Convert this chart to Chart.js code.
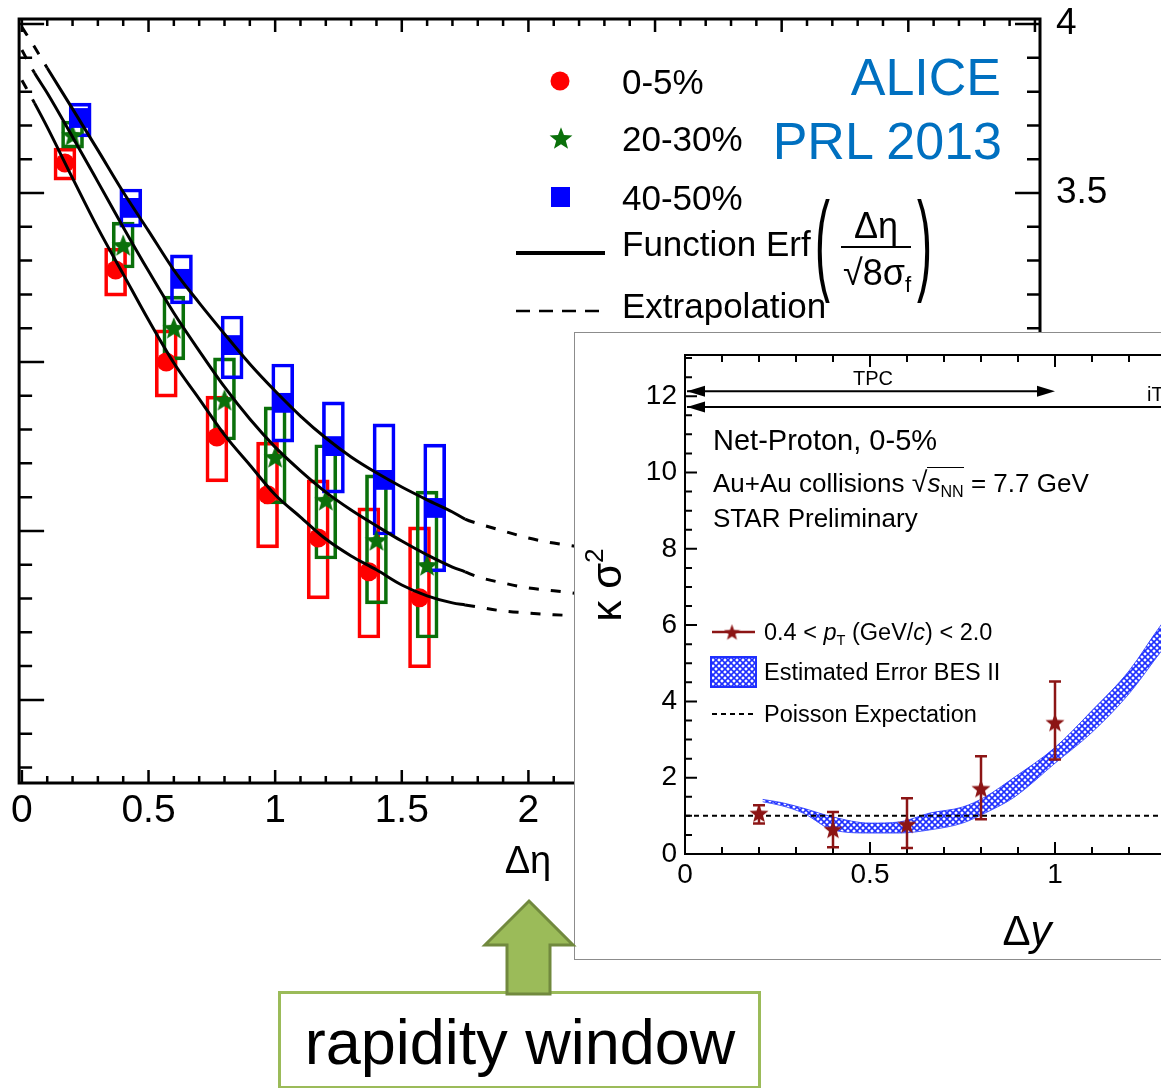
<!DOCTYPE html>
<html>
<head>
<meta charset="utf-8">
<title>Fluctuations vs rapidity window</title>
<script src="https://cdn.jsdelivr.net/npm/chart.js@4.4.1/dist/chart.umd.min.js"></script>
<style>
  html, body { margin: 0; padding: 0; background: #fff; }
  body { position: relative; width: 1161px; height: 1088px; overflow: hidden;
         font-family: 'Liberation Sans', Arial, Helvetica, sans-serif; color: #000; }
  canvas { display: block; }
  #mainChart { position: absolute; left: 0; top: 0; z-index: 1; }
  #inset { position: absolute; left: 574px; top: 332px; width: 760px; height: 626px;
           border: 1px solid #8c8c8c; background: #fff; z-index: 3; }
  .lbl { position: absolute; white-space: nowrap; line-height: 1; }
  .lbl sub { font-size: 0.62em; vertical-align: -0.32em; line-height: 0; }
  .lbl sup { font-size: 0.62em; vertical-align: 0.7em; line-height: 0; }
  .ol { border-top: 1.5px solid #000; }
  #window { position: absolute; left: 278px; top: 991px; width: 477px; height: 92px;
            border: 3.5px solid #9bbb59; background: #fff; z-index: 5; }
  #arrow { position: absolute; left: 0; top: 0; z-index: 5; }
</style>
</head>
<body>
<canvas id="mainChart" width="1161" height="900"></canvas>
<div id="inset"><canvas id="insetChart" width="760" height="626"></canvas></div>
<div id="window"></div>
<svg id="arrow" width="1161" height="1088">
  <polygon points="529,901 573,945 550,945 550,994 507,994 507,945 485,945"
           fill="#9bbb59" stroke="#71893e" stroke-width="3"/>
</svg>
<script>
const FONT = "'Liberation Sans', Arial, Helvetica, sans-serif";

// ALICE PRL 2013: D vs delta eta, three centralities
const ETA_RED   = [0.17, 0.37, 0.57, 0.77, 0.97, 1.17, 1.37, 1.57];
const ETA_GREEN = [0.20, 0.40, 0.60, 0.80, 1.00, 1.20, 1.40, 1.60];
const ETA_BLUE  = [0.23, 0.43, 0.63, 0.83, 1.03, 1.23, 1.43, 1.63];

const D_RED      = [3.589, 3.272, 3.000, 2.778, 2.607, 2.479, 2.379, 2.302];
const SYS_RED_LO = [3.538, 3.195, 2.896, 2.645, 2.450, 2.299, 2.183, 2.095];
const SYS_RED_HI = [3.633, 3.337, 3.095, 2.899, 2.763, 2.651, 2.568, 2.512];

const D_GREEN      = [3.672, 3.346, 3.101, 2.888, 2.719, 2.592, 2.473, 2.399];
const SYS_GREEN_LO = [3.633, 3.278, 3.006, 2.769, 2.580, 2.417, 2.284, 2.183];
const SYS_GREEN_HI = [3.713, 3.414, 3.195, 3.012, 2.867, 2.755, 2.666, 2.618];

const D_BLUE      = [3.722, 3.456, 3.246, 3.050, 2.879, 2.751, 2.651, 2.568];
const SYS_BLUE_LO = [3.666, 3.399, 3.172, 2.950, 2.763, 2.612, 2.488, 2.379];
const SYS_BLUE_HI = [3.766, 3.512, 3.317, 3.136, 2.994, 2.882, 2.817, 2.757];

// Erf fits (solid) and their extrapolation (dashed)
const FIT_ETA   = [0, 0.05, 0.1, 0.2, 0.3, 0.4, 0.5, 0.6, 0.7, 0.8, 0.9, 1.0, 1.1, 1.2, 1.3,
                   1.4, 1.5, 1.6, 1.7, 1.75, 1.8, 1.9, 2.0, 2.1, 2.2];
const FIT_RED   = [3.834, 3.766, 3.695, 3.544, 3.396, 3.260, 3.124, 2.997, 2.891, 2.784, 2.695, 2.607, 2.541,
                   2.476, 2.426, 2.385, 2.340, 2.308, 2.287, 2.281, 2.275, 2.263, 2.257, 2.252, 2.249];
const FIT_GREEN = [3.923, 3.855, 3.796, 3.666, 3.533, 3.399, 3.269, 3.145, 3.033, 2.926, 2.831, 2.748, 2.678,
                   2.615, 2.562, 2.515, 2.470, 2.429, 2.393, 2.379, 2.364, 2.346, 2.331, 2.323, 2.314];
const FIT_BLUE  = [3.991, 3.932, 3.870, 3.749, 3.627, 3.503, 3.388, 3.272, 3.175, 3.083, 2.994, 2.914, 2.840,
                   2.775, 2.719, 2.672, 2.630, 2.592, 2.556, 2.535, 2.522, 2.500, 2.479, 2.464, 2.453];
const FIT_SOLID_FROM = [0.05, 0.05, 0.1];   // red, green, blue
const FIT_SOLID_TO = 1.75;

const MAIN_X_MIN = -0.011, MAIN_X_MAX = 4.02;
const MAIN_Y_MIN = 1.754, MAIN_Y_MAX = 4.015;
const MAIN_X_LABELS = [0, 0.5, 1, 1.5, 2, 2.5, 3, 3.5, 4];
const MAIN_Y_LABELS = [2, 2.5, 3, 3.5, 4];

// STAR net-proton kappa*sigma^2 vs delta y (inset)
const DY     = [0.2, 0.4, 0.6, 0.8, 1.0];
const KS2    = [1.07, 0.65, 0.78, 1.72, 3.45];
const KS2_HI = [1.28, 1.10, 1.46, 2.56, 4.52];
const KS2_LO = [0.80, 0.18, 0.16, 0.91, 2.48];

const BAND_DY = [0.21, 0.26, 0.32, 0.40, 0.50, 0.58, 0.66, 0.75, 0.81, 0.89, 1.00, 1.10, 1.20, 1.29, 1.32];
const BAND_LO = [1.37, 1.27, 1.07, 0.63, 0.55, 0.55, 0.63, 0.81, 1.07, 1.49, 2.38, 3.19, 4.20, 5.35, 5.70];
const BAND_HI = [1.43, 1.35, 1.20, 0.97, 0.81, 0.84, 1.07, 1.23, 1.49, 2.01, 2.79, 3.76, 4.80, 6.05, 6.40];
const POISSON = 1;
const TPC_RANGE = [0, 1.0];
const ITPC_RANGE = [0, 1.6];

const INSET_X_MAX = 1.6, INSET_Y_MAX = 13.08;
const INSET_X_LABELS = [0, 0.5, 1, 1.5];
const INSET_Y_LABELS = [0, 2, 4, 6, 8, 10, 12];

const RED = '#ff0000', GREEN = '#0a700a', BLUE = '#0000ff', STAR_RED = '#8c1515';

function starCanvas(size, color) {
  const c = document.createElement('canvas');
  c.width = c.height = size;
  const g = c.getContext('2d');
  const R = size / 2, r = R * 0.42, cx = size / 2, cy = size / 2 + R * 0.095;
  g.beginPath();
  for (let i = 0; i < 10; i++) {
    const a = -Math.PI / 2 + i * Math.PI / 5;
    const rr = i % 2 ? r : R;
    g.lineTo(cx + rr * Math.cos(a), cy + rr * Math.sin(a));
  }
  g.closePath();
  g.fillStyle = color;
  g.fill();
  return c;
}

function hatch(color) {
  const s = 6;
  const c = document.createElement('canvas');
  c.width = c.height = s;
  const g = c.getContext('2d');
  g.strokeStyle = color;
  g.lineWidth = 1.6;
  g.beginPath();
  g.moveTo(-1, -1); g.lineTo(s + 1, s + 1);
  g.moveTo(s + 1, -1); g.lineTo(-1, s + 1);
  g.stroke();
  return g.createPattern(c, 'repeat');
}

const pts = (xs, ys) => xs.map((x, i) => ({ x, y: ys[i] }));
const boxes = (xs, lo, hi) => xs.map((x, i) => ({ x, y: [lo[i], hi[i]] }));

function label(html, x, cy, size, opts = {}) {
  const d = document.createElement('div');
  d.className = 'lbl';
  d.innerHTML = html;
  d.style.fontSize = size + 'px';
  d.style.left = x + 'px';
  d.style.top = (cy - 0.49 * size) + 'px';
  const shift = { left: '0', center: '-50%', right: '-100%' }[opts.align || 'left'];
  d.style.transform = 'translateX(' + shift + ')' + (opts.transform ? ' ' + opts.transform : '');
  if (opts.origin) d.style.transformOrigin = opts.origin;
  if (opts.color) d.style.color = opts.color;
  d.style.zIndex = opts.z || 2;
  document.body.appendChild(d);
  return d;
}

// ---------- main (ALICE) panel ----------
const greenStar = starCanvas(24, GREEN);

const mainFrame = {
  id: 'mainFrame',
  afterDatasetsDraw(chart) {
    const { ctx, chartArea: a, scales: { x, y } } = chart;
    ctx.save();
    ctx.strokeStyle = '#000';
    ctx.lineWidth = 3;
    ctx.strokeRect(a.left, a.top, a.right - a.left, a.bottom - a.top);
    ctx.lineWidth = 2.5;
    ctx.beginPath();
    for (let i = 0; i <= 40; i++) {
      const px = x.getPixelForValue(i / 10);
      const len = i % 5 === 0 ? 13 : 7;
      ctx.moveTo(px, a.bottom); ctx.lineTo(px, a.bottom - len);
      ctx.moveTo(px, a.top); ctx.lineTo(px, a.top + len);
    }
    for (let i = 18; i <= 40; i++) {
      const py = y.getPixelForValue(i / 10);
      const len = i % 5 === 0 ? 25 : 13;
      ctx.moveTo(a.left, py); ctx.lineTo(a.left + len, py);
      ctx.moveTo(a.right, py); ctx.lineTo(a.right - len, py);
    }
    ctx.stroke();

    // legend symbols
    ctx.fillStyle = RED;
    ctx.beginPath(); ctx.arc(560, 81, 9.5, 0, Math.PI * 2); ctx.fill();
    ctx.drawImage(greenStar, 561 - 12, 138 - 12);
    ctx.fillStyle = BLUE;
    ctx.fillRect(551, 187, 19, 20);
    ctx.strokeStyle = '#000';
    ctx.lineWidth = 4;
    ctx.beginPath(); ctx.moveTo(516, 253); ctx.lineTo(605, 253); ctx.stroke();
    ctx.lineWidth = 2.5;
    ctx.setLineDash([14, 9]);
    ctx.beginPath(); ctx.moveTo(516, 311); ctx.lineTo(605, 311); ctx.stroke();
    ctx.restore();
  }
};

function fitDataset(values, from) {
  return {
    type: 'line',
    data: pts(FIT_ETA, values),
    borderColor: '#000',
    borderWidth: 3,
    pointRadius: 0,
    cubicInterpolationMode: 'monotone',
    segment: {
      borderDash: c => (c.p0.parsed.x < from - 1e-9 || c.p1.parsed.x > FIT_SOLID_TO + 1e-9) ? [10, 12] : undefined
    },
    order: 1
  };
}

function boxDataset(xs, lo, hi, color, order) {
  return {
    type: 'bar',
    data: boxes(xs, lo, hi),
    backgroundColor: 'rgba(0,0,0,0)',
    borderColor: color,
    borderWidth: 3,
    borderSkipped: false,
    barThickness: 22,
    stack: 'sys',
    order
  };
}

function markerDataset(xs, ys, style, color, radius, order) {
  return {
    type: 'scatter',
    data: pts(xs, ys),
    pointStyle: style,
    pointRadius: radius,
    pointBackgroundColor: color,
    pointBorderColor: color,
    pointBorderWidth: 0,
    showLine: false,
    order
  };
}

new Chart(document.getElementById('mainChart'), {
  type: 'scatter',
  data: {
    datasets: [
      boxDataset(ETA_RED, SYS_RED_LO, SYS_RED_HI, RED, 8),
      boxDataset(ETA_GREEN, SYS_GREEN_LO, SYS_GREEN_HI, GREEN, 7),
      boxDataset(ETA_BLUE, SYS_BLUE_LO, SYS_BLUE_HI, BLUE, 6),
      markerDataset(ETA_RED, D_RED, 'circle', RED, 9.5, 5),
      markerDataset(ETA_GREEN, D_GREEN, greenStar, GREEN, 12, 4),
      markerDataset(ETA_BLUE, D_BLUE, 'rect', BLUE, 14, 3),
      fitDataset(FIT_RED, FIT_SOLID_FROM[0]),
      fitDataset(FIT_GREEN, FIT_SOLID_FROM[1]),
      fitDataset(FIT_BLUE, FIT_SOLID_FROM[2])
    ]
  },
  options: {
    responsive: false,
    animation: false,
    events: [],
    layout: { padding: { left: 19, top: 19, right: 0, bottom: 0 } },
    plugins: { legend: { display: false }, tooltip: { enabled: false } },
    scales: {
      x: {
        type: 'linear', position: 'bottom', min: MAIN_X_MIN, max: MAIN_X_MAX, offset: false,
        grid: { display: false, drawTicks: false, offset: false }, border: { display: false },
        afterBuildTicks: s => { s.ticks = MAIN_X_LABELS.map(v => ({ value: v })); },
        afterFit: s => { s.height = 117; },
        ticks: { color: '#000', padding: 11, maxRotation: 0, autoSkip: false,
                 font: { family: FONT, size: 39, lineHeight: 0.9 }, callback: v => String(v) }
      },
      y: { type: 'linear', min: MAIN_Y_MIN, max: MAIN_Y_MAX, display: false, stacked: false, beginAtZero: false },
      y2: {
        type: 'linear', position: 'right', min: MAIN_Y_MIN, max: MAIN_Y_MAX,
        grid: { display: false, drawTicks: false }, border: { display: false },
        afterBuildTicks: s => { s.ticks = MAIN_Y_LABELS.map(v => ({ value: v })); },
        afterFit: s => { s.width = 121; s.paddingTop = 0; s.paddingBottom = 0; },
        ticks: { color: '#000', padding: 16, autoSkip: false,
                 font: { family: FONT, size: 37, lineHeight: 0.05 }, callback: v => String(v) }
      }
    }
  },
  plugins: [mainFrame]
});

// ---------- inset (STAR) panel ----------
const insetStar = starCanvas(20, STAR_RED);
const legendStar = starCanvas(17, STAR_RED);
const bandFill = hatch('#1f2fff');

function arrowHead(ctx, tipX, y, dir) {
  ctx.beginPath();
  ctx.moveTo(tipX, y);
  ctx.lineTo(tipX - dir * 18, y - 5.5);
  ctx.lineTo(tipX - dir * 18, y + 5.5);
  ctx.closePath();
  ctx.fill();
}

const insetFrame = {
  id: 'insetFrame',
  beforeDatasetsDraw(chart) {
    const { ctx, chartArea: a, scales: { x, y } } = chart;
    ctx.save();
    ctx.strokeStyle = '#000';
    ctx.fillStyle = '#000';
    ctx.lineWidth = 2;
    ctx.strokeRect(a.left, a.top, a.right - a.left, a.bottom - a.top);
    ctx.beginPath();
    for (let i = 0; i <= 26; i++) {
      const py = y.getPixelForValue(i * 0.5);
      const len = i % 4 === 0 ? 12 : 7;
      ctx.moveTo(a.left, py); ctx.lineTo(a.left + len, py);
    }
    for (let i = 0; i <= 16; i++) {
      const px = x.getPixelForValue(i / 10);
      const len = i % 5 === 0 ? 12 : 7;
      ctx.moveTo(px, a.bottom); ctx.lineTo(px, a.bottom - len);
      ctx.moveTo(px, a.top); ctx.lineTo(px, a.top + len);
    }
    ctx.stroke();

    // detector acceptance arrows
    const yT = y.getPixelForValue(12.13), yI = y.getPixelForValue(11.72);
    const t0 = x.getPixelForValue(TPC_RANGE[0]) + 2, t1 = x.getPixelForValue(TPC_RANGE[1]);
    const i0 = x.getPixelForValue(ITPC_RANGE[0]) + 2, i1 = x.getPixelForValue(ITPC_RANGE[1]);
    ctx.beginPath();
    ctx.moveTo(t0, yT); ctx.lineTo(t1 - 10, yT);
    ctx.moveTo(i0, yI); ctx.lineTo(i1 - 10, yI);
    ctx.stroke();
    arrowHead(ctx, t0, yT, -1);
    arrowHead(ctx, t1, yT, 1);
    arrowHead(ctx, i0, yI, -1);
    arrowHead(ctx, i1, yI, 1);
    ctx.restore();
  },
  afterDatasetsDraw(chart) {
    const { ctx, scales: { x, y } } = chart;
    ctx.save();
    ctx.strokeStyle = STAR_RED;
    ctx.lineWidth = 2.5;
    ctx.beginPath();
    DY.forEach((v, i) => {
      const px = x.getPixelForValue(v);
      const hi = y.getPixelForValue(KS2_HI[i]), lo = y.getPixelForValue(KS2_LO[i]);
      ctx.moveTo(px, hi); ctx.lineTo(px, lo);
      ctx.moveTo(px - 6, hi); ctx.lineTo(px + 6, hi);
      ctx.moveTo(px - 6, lo); ctx.lineTo(px + 6, lo);
    });
    ctx.stroke();

    // legend symbols (canvas origin is page 575,333)
    ctx.lineWidth = 2.5;
    ctx.beginPath(); ctx.moveTo(137, 299); ctx.lineTo(180, 299); ctx.stroke();
    ctx.drawImage(legendStar, 157 - 8.5, 299 - 8.5);
    ctx.fillStyle = bandFill;
    ctx.fillRect(136, 324, 45, 30);
    ctx.strokeStyle = '#1f2fff';
    ctx.lineWidth = 2;
    ctx.strokeRect(136, 324, 45, 30);
    ctx.strokeStyle = '#000';
    ctx.setLineDash([5, 4]);
    ctx.beginPath(); ctx.moveTo(137, 381); ctx.lineTo(179, 381); ctx.stroke();
    ctx.restore();
  }
};

new Chart(document.getElementById('insetChart'), {
  type: 'scatter',
  data: {
    datasets: [
      {
        type: 'line', data: pts(BAND_DY, BAND_HI), borderColor: '#4a5aff', borderWidth: 1,
        pointRadius: 0, cubicInterpolationMode: 'monotone', fill: false, order: 5
      },
      {
        type: 'line', data: pts(BAND_DY, BAND_LO), borderColor: '#4a5aff', borderWidth: 1,
        pointRadius: 0, cubicInterpolationMode: 'monotone', fill: '-1', backgroundColor: bandFill, order: 4
      },
      {
        type: 'line', data: [{ x: 0, y: POISSON }, { x: INSET_X_MAX, y: POISSON }],
        borderColor: '#000', borderWidth: 2, borderDash: [5, 4], pointRadius: 0, order: 3
      },
      {
        type: 'scatter', data: pts(DY, KS2), pointStyle: insetStar, pointRadius: 10, order: 1
      }
    ]
  },
  options: {
    responsive: false,
    animation: false,
    events: [],
    layout: { padding: { left: 0, top: 20, right: 58, bottom: 0 } },
    plugins: { legend: { display: false }, tooltip: { enabled: false } },
    scales: {
      x: {
        type: 'linear', min: 0, max: INSET_X_MAX,
        grid: { display: false, drawTicks: false }, border: { display: false },
        afterBuildTicks: s => { s.ticks = INSET_X_LABELS.map(v => ({ value: v })); },
        afterFit: s => { s.height = 105; },
        ticks: { color: '#000', padding: 7, maxRotation: 0, autoSkip: false,
                 font: { family: FONT, size: 28, lineHeight: 1 }, callback: v => String(v) }
      },
      y: {
        type: 'linear', min: 0, max: INSET_Y_MAX,
        grid: { display: false, drawTicks: false }, border: { display: false },
        afterBuildTicks: s => { s.ticks = INSET_Y_LABELS.map(v => ({ value: v })); },
        afterFit: s => { s.width = 110; },
        ticks: { color: '#000', padding: 8, autoSkip: false,
                 font: { family: FONT, size: 28, lineHeight: 1 }, callback: v => String(v) }
      }
    }
  },
  plugins: [insetFrame]
});

// ---------- text ----------
label('0-5%', 622, 81, 35);
label('20-30%', 622, 138, 35);
label('40-50%', 622, 197, 35);
label('Function Erf', 622, 243, 35);
label('(', 815, 241, 112, { transform: 'scaleX(0.4)', origin: 'left top' });
label('Δη', 876, 226, 36, { align: 'center' });
label('√8σ<sub>f</sub>', 877, 273, 36, { align: 'center' });
label(')', 917, 241, 112, { transform: 'scaleX(0.4)', origin: 'left top' });
label('Extrapolation', 622, 305, 35);
label('ALICE', 1001, 76, 52, { align: 'right', color: '#0070c0' });
label('PRL 2013', 1002, 140, 52, { align: 'right', color: '#0070c0' });
label('Δη', 528, 860, 38, { align: 'center' });

const bar = document.createElement('div');
bar.style.cssText = 'position:absolute;left:841px;top:245.5px;width:70px;height:2.5px;background:#000;z-index:2';
document.body.appendChild(bar);

label('Net-Proton, 0-5%', 713, 440, 29, { z: 4 });
label('Au+Au collisions <span style="font-size:1.1em">√</span><span class="ol"><i>s</i><sub>NN</sub></span> = 7.7 GeV', 713, 481, 26, { z: 4 });
label('STAR Preliminary', 713, 518, 26, { z: 4 });
label('TPC', 873, 378, 20, { align: 'center', z: 4 });
label('iTPC', 1147, 394, 20, { z: 4 });
label('0.4 &lt; <i>p</i><sub>T</sub> (GeV/<i>c</i>) &lt; 2.0', 764, 633, 23.5, { z: 4 });
label('Estimated Error BES II', 764, 673, 23.5, { z: 4 });
label('Poisson Expectation', 764, 715, 23.5, { z: 4 });
label('Δ<i>y</i>', 1027, 931, 42, { align: 'center', z: 4 });

const ks = document.createElement('div');
ks.className = 'lbl';
ks.innerHTML = 'κ σ<sup>2</sup>';
ks.style.cssText += 'font-size:42px;left:607px;top:585px;z-index:4;transform:translate(-50%,-50%) rotate(-90deg)';
document.body.appendChild(ks);

label('rapidity window', 520, 1042, 63, { align: 'center', z: 6 });
</script>
</body>
</html>
